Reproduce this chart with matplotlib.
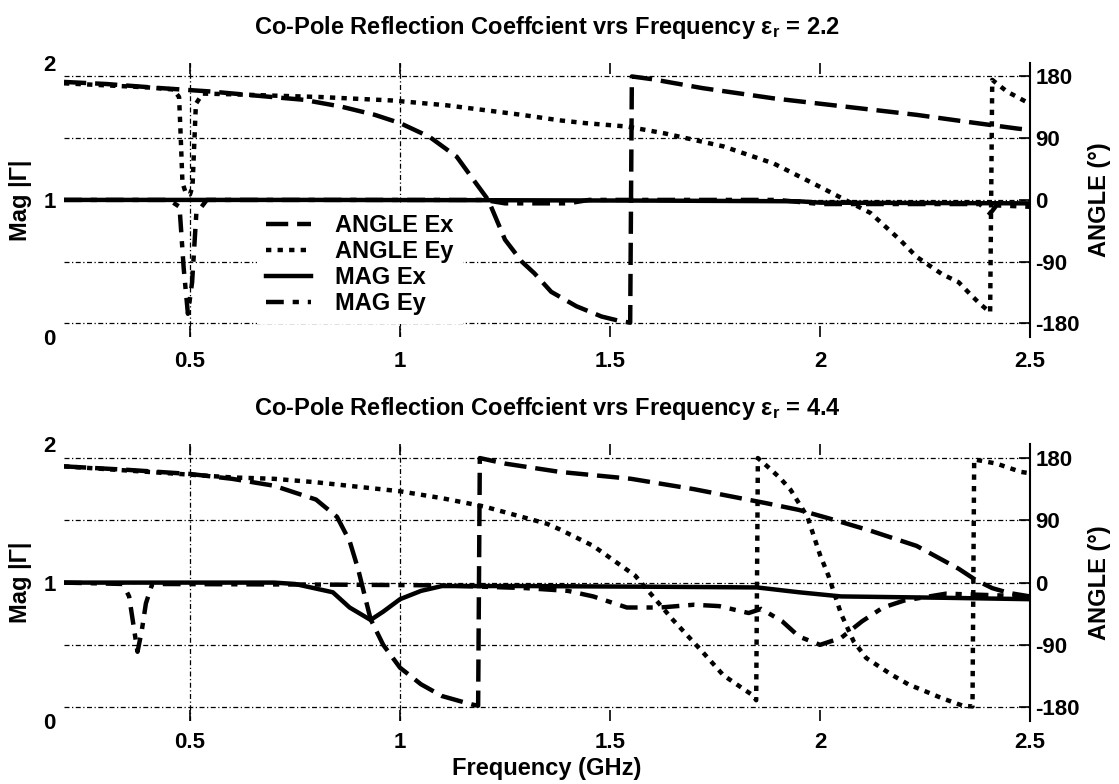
import matplotlib
matplotlib.use("Agg")
import matplotlib.pyplot as plt
from matplotlib.lines import Line2D
from matplotlib.font_manager import FontProperties

plt.rcParams['font.family'] = ['Liberation Sans', 'DejaVu Sans']
plt.rcParams['font.weight'] = 'bold'
plt.rcParams['axes.titleweight'] = 'bold'
plt.rcParams['axes.labelweight'] = 'bold'
plt.rcParams['axes.unicode_minus'] = False
plt.rcParams['mathtext.fontset'] = 'custom'
plt.rcParams['mathtext.bf'] = 'Liberation Sans:bold'
plt.rcParams['mathtext.rm'] = 'Liberation Sans:bold'
plt.rcParams['mathtext.default'] = 'bf'

# ---- data: er = 2.2 ----
f_ax1 = [0.2, 0.3, 0.43, 0.55, 0.64, 0.77, 0.86, 0.94, 1.0, 1.07, 1.135, 1.18, 1.21, 1.25, 1.29,
         1.32, 1.36, 1.42, 1.48, 1.52, 1.548, 1.552, 1.6, 1.72, 1.89, 2.06, 2.23, 2.36, 2.47, 2.5]
ang_ex1 = [172, 169, 163, 158, 153, 146, 136, 124, 112, 92, 63, 25, 0, -58, -90,
           -107, -134, -155, -170, -176, -179, 180, 176, 163, 148, 136, 124, 113, 104, 102]

f_ay1 = [0.2, 0.3, 0.4, 0.46, 0.474, 0.478, 0.482, 0.49, 0.5, 0.506, 0.51, 0.514, 0.53, 0.6, 0.7,
         0.81, 0.98, 1.11, 1.29, 1.38, 1.44, 1.54, 1.63, 1.77, 1.89, 2.0, 2.06, 2.12, 2.19, 2.23,
         2.29, 2.33, 2.36, 2.38, 2.405, 2.41, 2.445, 2.5]
ang_ey1 = [170, 167, 164, 161, 150, 90, 25, 10, 8, 20, 80, 140, 155, 154, 152,
           150, 145, 138, 124, 116, 112, 107, 97, 78, 53, 19, 0, -19, -58, -83,
           -108, -120, -139, -151, -164, 175, 158, 140]

f_mx1 = [0.2, 0.8, 1.2, 1.6, 1.95, 2.0, 2.5]
mag_ex1 = [1.0, 1.0, 0.998, 0.995, 0.99, 0.98, 0.975]

f_my1 = [0.2, 0.45, 0.475, 0.485, 0.495, 0.505, 0.515, 0.54, 1.2, 1.25, 1.4, 1.45, 1.9, 2.0,
         2.38, 2.405, 2.42, 2.5]
mag_ey1 = [1.0, 1.0, 0.95, 0.5, 0.17, 0.4, 0.9, 1.0, 1.0, 0.975, 0.975, 1.0, 1.0, 0.97,
           0.97, 0.9, 0.96, 0.95]

# ---- data: er = 4.4 ----
f_ax2 = [0.2, 0.35, 0.5, 0.6, 0.7, 0.8, 0.85, 0.88, 0.9, 0.93, 0.96, 1.0, 1.05, 1.1, 1.17,
         1.186, 1.19, 1.25, 1.38, 1.55, 1.7, 1.81, 1.87, 1.95, 2.02, 2.12, 2.23, 2.33, 2.37,
         2.41, 2.45, 2.5]
ang_ex2 = [168, 163, 157, 150, 140, 120, 95, 60, 20, -53, -90, -123, -147, -164, -176,
           -178, 180, 172, 160, 150, 135, 122, 115, 105, 93, 75, 53, 20, 4,
           -8, -15, -20]

f_ay2 = [0.2, 0.4, 0.6, 0.7, 0.8, 1.0, 1.1, 1.2, 1.35, 1.38, 1.46, 1.56, 1.65, 1.72, 1.77,
         1.84, 1.848, 1.852, 1.88, 1.905, 1.93, 1.97, 2.0, 2.02, 2.05, 2.08, 2.11, 2.17, 2.21,
         2.29, 2.34, 2.363, 2.367, 2.42, 2.478, 2.5]
ang_ey2 = [168, 160, 152, 150, 145, 132, 122, 110, 85, 77, 53, 10, -54, -100, -134,
           -163, -170, 180, 165, 151, 134, 95, 40, 10, -45, -85, -109, -133, -147,
           -167, -178, -179, 178, 172, 160, 158]

f_mx2 = [0.2, 0.7, 0.75, 0.84, 0.88, 0.93, 0.96, 1.0, 1.05, 1.1, 1.3, 1.6, 1.85, 1.95, 2.05,
         2.3, 2.5]
mag_ex2 = [1.0, 1.0, 0.99, 0.93, 0.82, 0.73, 0.79, 0.88, 0.94, 0.975, 0.975, 0.97, 0.965,
           0.93, 0.9, 0.89, 0.88]

f_my2 = [0.2, 0.34, 0.355, 0.365, 0.375, 0.385, 0.395, 0.41, 0.85, 1.1, 1.3, 1.4, 1.46, 1.54,
         1.62, 1.7, 1.76, 1.83, 1.86, 1.91, 1.95, 2.0, 2.05, 2.1, 2.15, 2.2, 2.3, 2.5]
mag_ey2 = [1.0, 0.99, 0.9, 0.7, 0.5, 0.65, 0.85, 0.99, 0.985, 0.98, 0.96, 0.94, 0.9, 0.82,
           0.82, 0.84, 0.83, 0.78, 0.81, 0.72, 0.61, 0.55, 0.6, 0.72, 0.82, 0.87, 0.92, 0.9]

titles = ['Co-Pole Reflection Coeffcient vrs Frequency ε$_{r}$ = 2.2',
          'Co-Pole Reflection Coeffcient vrs Frequency ε$_{r}$ = 4.4']
panels = [
    ((f_ax1, ang_ex1), (f_ay1, ang_ey1), (f_mx1, mag_ex1), (f_my1, mag_ey1)),
    ((f_ax2, ang_ex2), (f_ay2, ang_ey2), (f_mx2, mag_ex2), (f_my2, mag_ey2)),
]
legend_labels = ['ANGLE Ex', 'ANGLE Ey', 'MAG Ex', 'MAG Ey']

x_ticks = [0.5, 1, 1.5, 2, 2.5]
x_ticklabels = ['0.5', '1', '1.5', '2', '2.5']
grid_x = [0.5, 1.0]
mag_ticks = [0, 1, 2]
ang_ticks = [-180, -90, 0, 90, 180]

lw = 3.2
st_ax = dict(color='black', lw=lw, linestyle=(0, (5, 2)))
st_ay = dict(color='black', lw=lw, linestyle=(0, (1.2, 1.4)))
st_mx = dict(color='black', lw=lw, linestyle='-')
st_my = dict(color='black', lw=lw, linestyle=(0, (4, 2, 1.4, 2)))
grid_st = dict(color='black', lw=0.9, linestyle=(0, (4, 2, 1, 2)))

fig = plt.figure(figsize=(11.19, 7.84), dpi=100)
positions = [[0.0572, 0.570, 0.8633, 0.350], [0.0572, 0.0804, 0.8633, 0.353]]
fs = 17
tfs = 16

for i, (ax_d, ay_d, mx_d, my_d) in enumerate(panels):
    ax = fig.add_axes(positions[i])
    ax2 = ax.twinx()
    ax.set_xlim(0.2, 2.5)
    ax.set_ylim(0, 2)
    ax2.set_ylim(-200, 200)

    for gx in grid_x:
        ax2.axvline(gx, **grid_st)
    for gy in ang_ticks:
        ax2.axhline(gy, **grid_st)

    ax2.plot(*ax_d, **st_ax)
    ax2.plot(*ay_d, **st_ay)
    ax.plot(*mx_d, **st_mx)
    ax.plot(*my_d, **st_my)

    for s in ax.spines.values():
        s.set_visible(False)
    for k in ['top', 'left', 'bottom']:
        ax2.spines[k].set_visible(False)
    ax2.spines['right'].set_linewidth(1.5)

    ax.set_xticks(x_ticks)
    ax.set_xticklabels(x_ticklabels)
    ax.set_yticks(mag_ticks)
    ax.tick_params(axis='x', direction='in', length=8, width=1.2, top=True, labelsize=tfs,
                   pad=10 if i == 0 else 8)
    ax.tick_params(axis='y', length=0, labelsize=tfs, pad=6)
    ax2.set_yticks(ang_ticks)
    ax2.tick_params(axis='y', direction='in', length=8, width=1.2, labelsize=tfs, pad=4)

    ax.set_ylabel('Mag |Γ|', fontsize=fs, labelpad=8)
    ax2.set_ylabel('ANGLE (°)', fontsize=fs, labelpad=6)
    ax.set_title(titles[i], fontsize=fs, pad=21)

    if i == 0:
        handles = [Line2D([], [], **st_ax), Line2D([], [], **st_ay),
                   Line2D([], [], **st_mx), Line2D([], [], **st_my)]
        leg = ax2.legend(handles, legend_labels, loc='upper left',
                         bbox_to_anchor=(257 / 1119, 1 - 205 / 784),
                         bbox_transform=fig.transFigure, frameon=True, facecolor='white',
                         edgecolor='none', framealpha=1, fancybox=False,
                         prop=FontProperties(family='Liberation Sans', weight='bold', size=fs),
                         handlelength=1.9, handletextpad=1.0, labelspacing=0.12,
                         borderpad=0.4, borderaxespad=0)
        for t in leg.get_texts():
            t.set_fontweight('bold')
    else:
        ax.set_xlabel('Frequency (GHz)', fontsize=fs, labelpad=3)

fig.savefig('out.png', dpi=100)
